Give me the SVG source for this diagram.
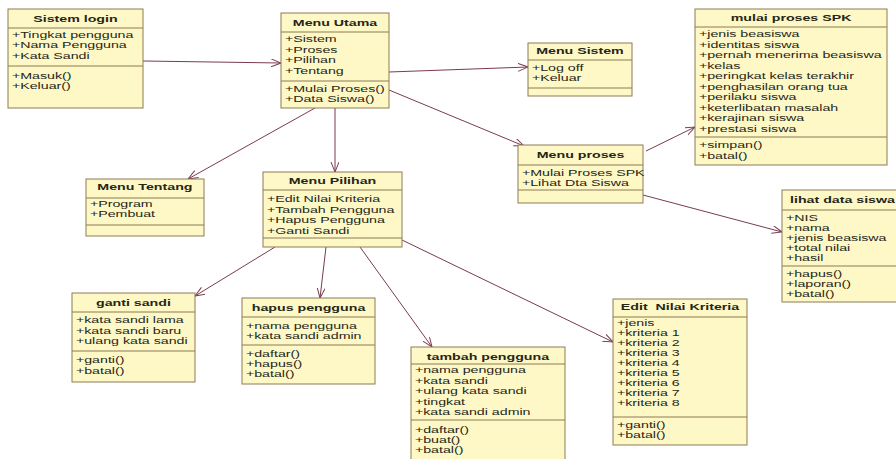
<svg xmlns="http://www.w3.org/2000/svg" width="896" height="459" viewBox="0 0 896 459">
<style>
.box{fill:#fdf8c6;stroke:#8c7b55;stroke-width:1}
.div{stroke:#8c7b55;stroke-width:1}
text{font-family:"Liberation Sans",Arial,sans-serif;font-size:9px;fill:#262618}
.t{font-weight:bold;text-anchor:middle}
.c{stroke:#7a3b50;stroke-width:1;fill:none}
</style>
<defs>
<marker id="ah" markerUnits="userSpaceOnUse" markerWidth="11" markerHeight="9" refX="10" refY="4" orient="auto">
<path d="M0,0 L10,4 L0,8" fill="none" stroke="#7a3b50" stroke-width="1"/>
</marker>
</defs>
<rect width="896" height="459" fill="#ffffff"/>
<g id="connectors">
<line class="c" x1="143" y1="61" x2="281" y2="63" marker-end="url(#ah)"/>
<line class="c" x1="389" y1="72" x2="528" y2="67" marker-end="url(#ah)"/>
<line class="c" x1="389" y1="90" x2="524" y2="146" marker-end="url(#ah)"/>
<line class="c" x1="315" y1="108" x2="188" y2="179" marker-end="url(#ah)"/>
<line class="c" x1="335" y1="108" x2="335" y2="172" marker-end="url(#ah)"/>
<line class="c" x1="646" y1="151" x2="695" y2="127" marker-end="url(#ah)"/>
<line class="c" x1="643" y1="195" x2="782" y2="232" marker-end="url(#ah)"/>
<line class="c" x1="275" y1="247" x2="195" y2="296" marker-end="url(#ah)"/>
<line class="c" x1="326" y1="247" x2="320" y2="298" marker-end="url(#ah)"/>
<line class="c" x1="360" y1="247" x2="432" y2="347" marker-end="url(#ah)"/>
<line class="c" x1="402" y1="240" x2="613" y2="342" marker-end="url(#ah)"/>
</g>
<g id="sistem-login" transform="translate(8,9)">
<rect class="box" width="135" height="99"/>
<line class="div" x1="0" y1="19" x2="135" y2="19"/><line class="div" x1="0" y1="57" x2="135" y2="57"/>
<g transform="scale(1.58,1)">
<text class="t" x="42.7" y="13.5">Sistem login</text>
<text x="2.5" y="29">+Tingkat pengguna</text>
<text x="2.5" y="39.5">+Nama Pengguna</text>
<text x="2.5" y="50">+Kata Sandi</text>
<text x="2.5" y="70">+Masuk()</text>
<text x="2.5" y="80.5">+Keluar()</text>
</g>
</g>
<g id="menu-utama" transform="translate(281,13)">
<rect class="box" width="108" height="95"/>
<line class="div" x1="0" y1="19" x2="108" y2="19"/><line class="div" x1="0" y1="68" x2="108" y2="68"/>
<g transform="scale(1.58,1)">
<text class="t" x="34.2" y="13.5">Menu Utama</text>
<text x="2.5" y="29">+Sistem</text>
<text x="2.5" y="40">+Proses</text>
<text x="2.5" y="50.5">+Pilihan</text>
<text x="2.5" y="61">+Tentang</text>
<text x="2.5" y="79">+Mulai Proses()</text>
<text x="2.5" y="89.5">+Data Siswa()</text>
</g>
</g>
<g id="menu-sistem" transform="translate(528,43)">
<rect class="box" width="104" height="53"/>
<line class="div" x1="0" y1="17" x2="104" y2="17"/><line class="div" x1="0" y1="45" x2="104" y2="45"/>
<g transform="scale(1.58,1)">
<text class="t" x="32.9" y="11.5">Menu Sistem</text>
<text x="2.5" y="28">+Log off</text>
<text x="2.5" y="38.5">+Keluar</text>
</g>
</g>
<g id="mulai-proses-spk" transform="translate(695,9)">
<rect class="box" width="192" height="156"/>
<line class="div" x1="0" y1="18" x2="192" y2="18"/><line class="div" x1="0" y1="128" x2="192" y2="128"/>
<g transform="scale(1.58,1)">
<text class="t" x="60.8" y="12.5">mulai proses SPK</text>
<text x="2.5" y="28.5">+jenis beasiswa</text>
<text x="2.5" y="39">+identitas siswa</text>
<text x="2.5" y="49.5">+pernah menerima beasiswa</text>
<text x="2.5" y="60">+kelas</text>
<text x="2.5" y="70.5">+peringkat kelas terakhir</text>
<text x="2.5" y="81">+penghasilan orang tua</text>
<text x="2.5" y="91.5">+perilaku siswa</text>
<text x="2.5" y="102">+keterlibatan masalah</text>
<text x="2.5" y="112.5">+kerajinan siswa</text>
<text x="2.5" y="123">+prestasi siswa</text>
<text x="2.5" y="139.5">+simpan()</text>
<text x="2.5" y="150">+batal()</text>
</g>
</g>
<g id="menu-tentang" transform="translate(86,179)">
<rect class="box" width="118" height="57"/>
<line class="div" x1="0" y1="19" x2="118" y2="19"/><line class="div" x1="0" y1="46" x2="118" y2="46"/>
<g transform="scale(1.58,1)">
<text class="t" x="37.3" y="11.5">Menu Tentang</text>
<text x="2.5" y="28.5">+Program</text>
<text x="2.5" y="38.5">+Pembuat</text>
</g>
</g>
<g id="menu-pilihan" transform="translate(263,172)">
<rect class="box" width="139" height="75"/>
<line class="div" x1="0" y1="18" x2="139" y2="18"/><line class="div" x1="0" y1="66" x2="139" y2="66"/>
<g transform="scale(1.58,1)">
<text class="t" x="44" y="12.5">Menu Pilihan</text>
<text x="2.5" y="30.5">+Edit Nilai Kriteria</text>
<text x="2.5" y="41">+Tambah Pengguna</text>
<text x="2.5" y="51.5">+Hapus Pengguna</text>
<text x="2.5" y="62">+Ganti Sandi</text>
</g>
</g>
<g id="menu-proses" transform="translate(518,145)">
<rect class="box" width="125" height="58"/>
<line class="div" x1="0" y1="20" x2="125" y2="20"/><line class="div" x1="0" y1="45" x2="125" y2="45"/>
<g transform="scale(1.58,1)">
<text class="t" x="39.6" y="13.5">Menu proses</text>
<text x="2.5" y="31">+Mulai Proses SPK</text>
<text x="2.5" y="41">+Lihat Dta Siswa</text>
</g>
</g>
<g id="lihat-data-siswa" transform="translate(782,190)">
<rect class="box" width="121" height="112"/>
<line class="div" x1="0" y1="20" x2="121" y2="20"/><line class="div" x1="0" y1="76" x2="121" y2="76"/>
<g transform="scale(1.58,1)">
<text class="t" x="38.3" y="13.5">lihat data siswa</text>
<text x="2.5" y="31">+NIS</text>
<text x="2.5" y="41">+nama</text>
<text x="2.5" y="51">+jenis beasiswa</text>
<text x="2.5" y="61">+total nilai</text>
<text x="2.5" y="71">+hasil</text>
<text x="2.5" y="87">+hapus()</text>
<text x="2.5" y="97">+laporan()</text>
<text x="2.5" y="107">+batal()</text>
</g>
</g>
<g id="ganti-sandi" transform="translate(72,293)">
<rect class="box" width="123" height="89"/>
<line class="div" x1="0" y1="19" x2="123" y2="19"/><line class="div" x1="0" y1="58" x2="123" y2="58"/>
<g transform="scale(1.58,1)">
<text class="t" x="38.9" y="13.5">ganti sandi</text>
<text x="2.5" y="30.5">+kata sandi lama</text>
<text x="2.5" y="41">+kata sandi baru</text>
<text x="2.5" y="51.5">+ulang kata sandi</text>
<text x="2.5" y="70.5">+ganti()</text>
<text x="2.5" y="81">+batal()</text>
</g>
</g>
<g id="hapus-pengguna" transform="translate(242,298)">
<rect class="box" width="133" height="86"/>
<line class="div" x1="0" y1="19" x2="133" y2="19"/><line class="div" x1="0" y1="47" x2="133" y2="47"/>
<g transform="scale(1.58,1)">
<text class="t" x="42.1" y="13.5">hapus pengguna</text>
<text x="2.5" y="31.5">+nama pengguna</text>
<text x="2.5" y="41.5">+kata sandi admin</text>
<text x="2.5" y="59.5">+daftar()</text>
<text x="2.5" y="69.5">+hapus()</text>
<text x="2.5" y="79.5">+batal()</text>
</g>
</g>
<g id="tambah-pengguna" transform="translate(411,347)">
<rect class="box" width="154" height="120"/>
<line class="div" x1="0" y1="17" x2="154" y2="17"/><line class="div" x1="0" y1="73" x2="154" y2="73"/>
<g transform="scale(1.58,1)">
<text class="t" x="48.7" y="13.5">tambah pengguna</text>
<text x="2.5" y="26.5">+nama pengguna</text>
<text x="2.5" y="37">+kata sandi</text>
<text x="2.5" y="47.5">+ulang kata sandi</text>
<text x="2.5" y="58">+tingkat</text>
<text x="2.5" y="68.5">+kata sandi admin</text>
<text x="2.5" y="86.5">+daftar()</text>
<text x="2.5" y="96.5">+buat()</text>
<text x="2.5" y="106.5">+batal()</text>
</g>
</g>
<g id="edit-nilai-kriteria" transform="translate(613,299)">
<rect class="box" width="134" height="146"/>
<line class="div" x1="0" y1="18" x2="134" y2="18"/><line class="div" x1="0" y1="118" x2="134" y2="118"/>
<g transform="scale(1.58,1)">
<text class="t" x="42.4" y="11.5" xml:space="preserve">Edit  Nilai Kriteria</text>
<text x="2.5" y="27">+jenis</text>
<text x="2.5" y="37">+kriteria 1</text>
<text x="2.5" y="47">+kriteria 2</text>
<text x="2.5" y="57">+kriteria 3</text>
<text x="2.5" y="67">+kriteria 4</text>
<text x="2.5" y="77">+kriteria 5</text>
<text x="2.5" y="87">+kriteria 6</text>
<text x="2.5" y="97">+kriteria 7</text>
<text x="2.5" y="107">+kriteria 8</text>
<text x="2.5" y="129">+ganti()</text>
<text x="2.5" y="139">+batal()</text>
</g>
</g>
</svg>
